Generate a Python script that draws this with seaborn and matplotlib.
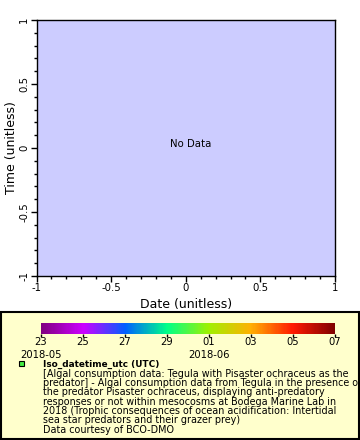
import numpy as np
import pandas as pd
import matplotlib
matplotlib.use("Agg")
import matplotlib.pyplot as plt
from matplotlib.colors import LinearSegmentedColormap, Normalize
from matplotlib.patches import Rectangle
import matplotlib.colorbar as mcolorbar
import seaborn as sns

# ---- data (no data points in this chart) ----
date_values = []
time_values = []
axis_ticks = [-1, -0.5, 0, 0.5, 1]
axis_tick_labels = ["-1", "-0.5", "0", "0.5", "1"]
cbar_day_labels = ["23", "25", "27", "29", "01", "03", "05", "07"]
cbar_month_labels = ["2018-05", "2018-06"]
cbar_month_positions = [0, 4]
cbar_colors = ["#800080", "#cc00ff", "#0060ff", "#00ff88", "#a0f000",
               "#ffb000", "#ff1a00", "#800000"]
legend_title = "Iso_datetime_utc (UTC)"
legend_text = ("[Algal consumption data: Tegula with Pisaster ochraceus as the\n"
               "predator] - Algal consumption data from Tegula in the presence of\n"
               "the predator Pisaster ochraceus, displaying anti-predatory\n"
               "responses or not within mesocosms at Bodega Marine Lab in\n"
               "2018 (Trophic consequences of ocean acidification: Intertidal\n"
               "sea star predators and their grazer prey)\n"
               "Data courtesy of BCO-DMO")

sns.set_style("ticks")
plt.rcParams["font.family"] = ["DejaVu Sans"]
plt.rcParams.update({"text.color": "black", "axes.labelcolor": "black",
                     "xtick.color": "black", "ytick.color": "black",
                     "axes.edgecolor": "black"})

W, H = 360, 440
fig = plt.figure(figsize=(W / 100, H / 100), dpi=100)
fig.patch.set_facecolor("white")

def fx(px):
    return px / W

def fy(py):
    return 1 - py / H

# legend box (drawn below everything)
box = Rectangle((fx(1), fy(439)), fx(358), fy(312) - fy(439),
                transform=fig.transFigure, facecolor="#ffffcc",
                edgecolor="black", linewidth=1.5, zorder=-5)
fig.patches.append(box)

ax = fig.add_axes([fx(36.5), fy(276), fx(335) - fx(36.5), fy(20) - fy(276)])
df = pd.DataFrame({"date": pd.Series(date_values, dtype=float),
                   "time": pd.Series(time_values, dtype=float)})
sns.scatterplot(data=df, x="date", y="time", ax=ax)
ax.set_facecolor("#ccccff")
ax.set_xlim(-1, 1)
ax.set_ylim(-1, 1)
ax.set_xticks(axis_ticks)
ax.set_yticks(axis_ticks)
ax.set_xticklabels(axis_tick_labels)
ax.set_yticklabels(axis_tick_labels, rotation=90, va="center")
ax.set_xticks(np.arange(-1, 1.01, 0.1), minor=True)
ax.set_yticks(np.arange(-1, 1.01, 0.1), minor=True)
ax.tick_params(which="major", length=4.5, width=1, direction="out", labelsize=7.3, pad=0.8)
ax.tick_params(which="minor", length=2, width=1, direction="out")
for s in ax.spines.values():
    s.set_linewidth(1)
    s.set_visible(True)
    s.set_color("black")
ax.set_xlabel("Date (unitless)", fontsize=9, labelpad=3)
ax.set_ylabel("Time (unitless)", fontsize=9, labelpad=1)
ax.text(0.03, 0.03, "No Data", ha="center", va="center", fontsize=7.3)

# colorbar
cmap = LinearSegmentedColormap.from_list("rb", cbar_colors)
cax = fig.add_axes([fx(41), fy(334), fx(335) - fx(41), fy(323) - fy(334)])
cax.set_zorder(5)
cb = mcolorbar.ColorbarBase(cax, cmap=cmap, norm=Normalize(0, len(cbar_day_labels) - 1),
                            orientation="horizontal")
cb.outline.set_visible(False)
cb.set_ticks(range(len(cbar_day_labels)))
cb.set_ticklabels(cbar_day_labels)
cax.tick_params(length=2.2, width=1, labelsize=7.2, pad=0.3, direction="out",
                colors="black")
month_y = -(350 - 334) / 11
for lab, pos in zip(cbar_month_labels, cbar_month_positions):
    cax.text(pos, month_y, lab, transform=cax.get_xaxis_transform(), ha="center",
             va="top", fontsize=7.2, color="black")

# legend entry
fig.patches.append(Rectangle((fx(19), fy(366)), fx(5), fy(361) - fy(366),
                             transform=fig.transFigure, facecolor="#44ee44",
                             edgecolor="black", linewidth=0.8, zorder=3))
fig.text(fx(43), fy(364), legend_title, fontsize=6.4, fontweight="bold",
         ha="left", va="center")
t = fig.text(fx(43), fy(368.5), legend_text, fontsize=6.9, ha="left", va="top",
             linespacing=0.92)
t.set_clip_path(box)

fig.savefig("out.png", dpi=100)
